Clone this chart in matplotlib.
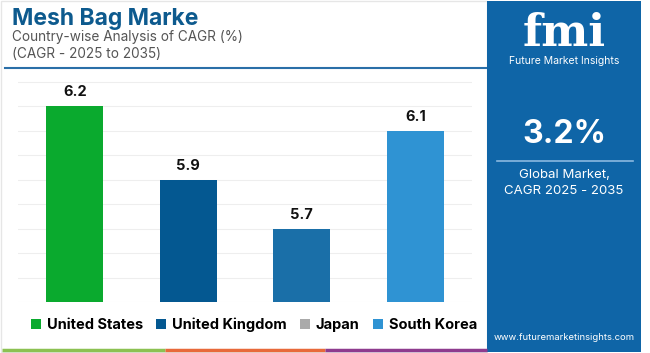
import matplotlib
matplotlib.use("Agg")
import matplotlib.pyplot as plt
from matplotlib.patches import Rectangle, Patch
from matplotlib.lines import Line2D

categories = ["United States", "United Kingdom", "Japan", "South Korea"]
values = [6.2, 5.9, 5.7, 6.1]
bar_colors = ["#0aaa2e", "#045891", "#1a6fa8", "#2f93d3"]
legend_colors = ["#0aaa2e", "#045891", "#aaaaaa", "#2f93d3"]
value_labels = ["6.2", "5.9", "5.7", "6.1"]
grid_ticks = [5.4, 5.5, 5.6, 5.7, 5.8, 5.9, 6.0, 6.1, 6.2, 6.3]

title = "Mesh Bag Marke"
subtitle1 = "Country-wise Analysis of CAGR (%)"
subtitle2 = "(CAGR - 2025 to 2035)"
big_number = "3.2%"
panel_text = "Global Market,\nCAGR 2025 - 2035"
website = "www.futuremarketinsights.com"

W, H = 650, 353
fig = plt.figure(figsize=(6.5, 3.53), dpi=100)
fig.patch.set_facecolor("white")
plt.rcParams["font.family"] = ["Inter", "DejaVu Sans"]

def fx(x):
    return x / W

def fy(y):
    return 1 - y / H

# outer light border
fig.add_artist(Rectangle((fx(1), fy(352)), fx(486), 351 / H, transform=fig.transFigure,
                         fill=False, edgecolor="#e6e6e6", linewidth=1.0))

# main axes
ax = fig.add_axes([fx(18), fy(302), fx(472 - 18), (302 - 77) / H])
ax.bar(range(len(categories)), values, width=0.5, color=bar_colors, zorder=3)
ax.set_xlim(-0.5, 3.5)
ax.set_ylim(5.4, 6.32)
ax.set_yticks(grid_ticks)
ax.yaxis.grid(True, color="#eeeeee", linewidth=0.8, zorder=0)
ax.set_xticks([])
ax.tick_params(left=False, labelleft=False)
for s in ax.spines.values():
    s.set_visible(False)
for i, (v, lab) in enumerate(zip(values, value_labels)):
    ax.annotate(lab, (i, v), xytext=(0, 5), textcoords="offset points",
                ha="center", va="bottom", fontsize=10.5, fontweight="bold",
                color="#111111", clip_on=False)

# title
fig.text(fx(12), fy(25), title, fontsize=16.5, fontweight="bold", color="#0d5a8e",
         ha="left", va="baseline")
fig.text(fx(12), fy(41), subtitle1, fontsize=9.8, color="#555555", ha="left", va="baseline")
fig.text(fx(12), fy(58), subtitle2, fontsize=9.8, color="#555555", ha="left", va="baseline")
fig.add_artist(Line2D([fx(5), fx(486)], [fy(68), fy(68)], transform=fig.transFigure,
                      color="#2a6fa8", linewidth=1.5))

# legend
handles = [Patch(facecolor=c, edgecolor="none") for c in legend_colors]
leg = fig.legend(handles, categories, loc="center", bbox_to_anchor=(fx(254), fy(325)),
                 ncol=4, frameon=False, handlelength=0.7, handleheight=0.7,
                 handletextpad=0.4, columnspacing=0.9,
                 prop={"weight": "bold", "size": 10.5})

# bottom strip
for x0, x1, c in [(2, 165, "#8cc152"), (165, 325, "#e8693a"), (325, 487, "#8e3b8e")]:
    fig.add_artist(Line2D([fx(x0), fx(x1)], [fy(350), fy(350)], transform=fig.transFigure,
                          color=c, linewidth=2.5, solid_capstyle="butt"))

# right panel
fig.add_artist(Rectangle((fx(487), fy(352)), fx(641 - 487), 351 / H, transform=fig.transFigure,
                         facecolor="#0f65a7", edgecolor="none"))
fig.text(fx(564), fy(46), "fmi", fontsize=32, fontweight="bold", color="white",
         ha="center", va="baseline", family=["DejaVu Serif"])
fig.text(fx(564), fy(64), "Future Market Insights", fontsize=7.5, color="white",
         ha="center", va="baseline")
fig.text(fx(564), fy(143), big_number, fontsize=23, fontweight="bold", color="white",
         ha="center", va="baseline")
fig.add_artist(Line2D([fx(497), fx(633)], [fy(161), fy(161)], transform=fig.transFigure,
                      color="#8ab8e0", linewidth=1.2))
fig.text(fx(564), fy(183), panel_text, fontsize=9.5, color="white", ha="center",
         va="center", linespacing=1.4)
fig.text(fx(564), fy(340), website, fontsize=6.8, color="white", ha="center", va="baseline")

fig.savefig("out.png", dpi=100, facecolor="white")
